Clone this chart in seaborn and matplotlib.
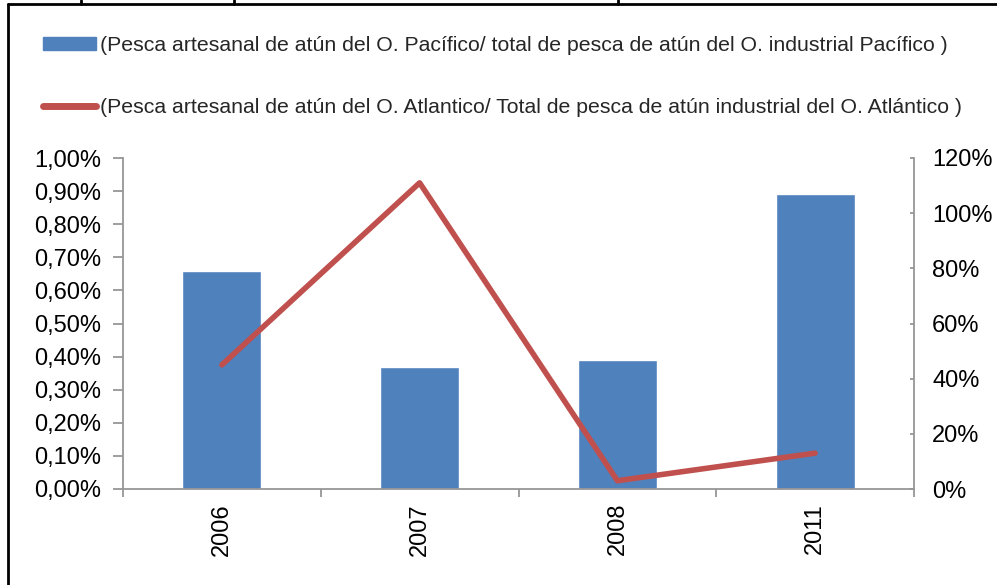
import matplotlib
matplotlib.use("Agg")
import matplotlib.pyplot as plt
import seaborn as sns
import pandas as pd
from matplotlib.patches import Patch
from matplotlib.lines import Line2D
from matplotlib.ticker import FuncFormatter, MultipleLocator

years = ["2006", "2007", "2008", "2011"]
pacifico = [0.66, 0.37, 0.39, 0.89]      # % (eje izquierdo)
atlantico = [45, 111, 3, 13]             # % (eje derecho)

label_pac = "(Pesca artesanal de atún del O. Pacífico/ total de pesca de atún del O. industrial Pacífico )"
label_atl = "(Pesca artesanal de atún del O. Atlantico/ Total de pesca de atún industrial del O. Atlántico )"

blue = "#4F81BD"
red = "#C0504D"
grey = "#969696"

sns.set_style("white")
plt.rcParams["font.family"] = ["Liberation Sans", "DejaVu Sans"]

df = pd.DataFrame({"year": years, "pac": pacifico, "atl": atlantico})

W, H = 997, 585
fig = plt.figure(figsize=(W / 100, H / 100), dpi=100)
ax = fig.add_axes([123 / W, 1 - 489 / H, (914 - 123) / W, (489 - 158) / H])

sns.barplot(data=df, x="year", y="pac", color=blue, saturation=1, width=0.4, ax=ax)
ax.set_xlim(-0.5, 3.5)
ax.set_ylim(0, 1.0)
ax.yaxis.set_major_locator(MultipleLocator(0.1))
ax.yaxis.set_major_formatter(FuncFormatter(lambda v, p: f"{v:.2f}%".replace(".", ",")))
ax.set_xlabel("")
ax.set_ylabel("")

ax2 = ax.twinx()
sns.pointplot(data=df, x="year", y="atl", color=red, markers="", linewidth=4, ax=ax2)
ax2.set_xlim(-0.5, 3.5)
ax2.set_ylim(0, 120)
ax2.yaxis.set_major_locator(MultipleLocator(20))
ax2.yaxis.set_major_formatter(FuncFormatter(lambda v, p: f"{v:.0f}%"))
ax2.set_xlabel("")
ax2.set_ylabel("")

for a in (ax, ax2):
    for s in a.spines.values():
        s.set_visible(False)
    a.tick_params(labelsize=17, colors="black")

ax.spines["left"].set_visible(True)
ax.spines["bottom"].set_visible(True)
ax2.spines["right"].set_visible(True)
for s in (ax.spines["left"], ax.spines["bottom"], ax2.spines["right"]):
    s.set_color(grey)
    s.set_linewidth(1.3)

ax.tick_params(axis="y", direction="out", length=7, width=1.3, color=grey, left=True, pad=9)
ax2.tick_params(axis="y", direction="in", length=3, width=1.3, color=grey, right=True, pad=13)

# category ticks on boundaries, labels at centers
ax.set_xticks([-0.5, 0.5, 1.5, 2.5, 3.5], minor=True)
ax.tick_params(axis="x", which="minor", direction="out", length=6, width=1.3, color=grey, bottom=True)
ax.tick_params(axis="x", which="major", length=0, pad=10)
ax.set_xticks(range(len(years)))
ax.set_xticklabels(years, rotation=90, fontsize=17)

# legend
handles = [Patch(facecolor=blue, edgecolor=blue), Line2D([], [], color=red, linewidth=5)]
fig.legend(handles, [label_pac, label_atl], loc="upper left",
           bbox_to_anchor=(24 / W, 1 - 17 / H), frameon=False, fontsize=15.3,
           handlelength=2.5, handleheight=0.55, handletextpad=0.2, labelspacing=2.0)

# document frame remnants
def fline(x0, y0, x1, y1):
    fig.add_artist(Line2D([x0 / W, x1 / W], [1 - y0 / H, 1 - y1 / H], color="black", linewidth=2))

fline(8, 4, W, 4)
fline(8, 4, 8, H)
for xv in (81, 234, 618):
    fline(xv, 0, xv, 4)

fig.savefig("out.png", dpi=100)
